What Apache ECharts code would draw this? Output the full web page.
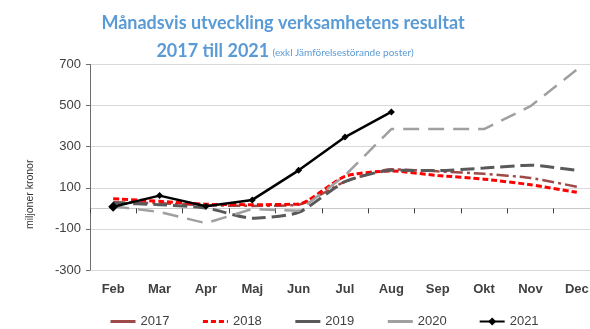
<!DOCTYPE html>
<html>
<head>
<meta charset="utf-8">
<script src="https://cdn.jsdelivr.net/npm/echarts@6/dist/echarts.min.js"></script>
<style>
  html, body { margin: 0; padding: 0; background: #fff; }
  #chart { width: 590px; height: 329px; }
</style>
</head>
<body>
<div id="chart"></div>
<script>
// Månader (februari–december)
const months = ['Feb', 'Mar', 'Apr', 'Maj', 'Jun', 'Jul', 'Aug', 'Sep', 'Okt', 'Nov', 'Dec'];

// Ackumulerat resultat per år, miljoner kronor
const y2017 = [30, 25, 15, 12, 18, 130, 190, 180, 168, 148, 105];
const y2018 = [47, 34, 20, 18, 21, 156, 182, 160, 142, 115, 78];
const y2019 = [26, 18, 2, -48, -20, 130, 185, 184, 196, 210, 185];
const y2020 = [10, -18, -72, -3, -12, 160, 386, 386, 386, 497, 675];
const y2021 = [8, 62, 10, 41, 185, 347, 469];

const yTicks = { min: -300, max: 700, step: 200 };

const chart = echarts.init(document.getElementById('chart'), null, { renderer: 'canvas' });

const titleBlue = '#5B9BD5';
const textDark = '#404040';

// legend entries: plain line swatch, symbol hidden (except 2021)
const plainSwatch = { opacity: 0 };

chart.setOption({
  animation: false,
  backgroundColor: '#ffffff',
  graphic: [
    {
      type: 'text',
      x: 283,
      y: 23,
      style: {
        text: 'Månadsvis utveckling verksamhetens resultat',
        fontFamily: 'Lato',
        fontWeight: 'bold',
        fontSize: 18,
        fill: titleBlue,
        align: 'center',
        verticalAlign: 'middle'
      }
    },
    {
      type: 'text',
      x: 285,
      y: 51,
      style: {
        text: '{big|2017 till 2021} {small|(exkl Jämförelsestörande poster)}',
        align: 'center',
        verticalAlign: 'middle',
        rich: {
          big: { fontFamily: 'Lato', fontWeight: 'bold', fontSize: 18, fill: titleBlue },
          small: { fontFamily: 'Lato', fontSize: 10, fill: titleBlue, padding: [3, 0, 0, 0] }
        }
      }
    },
    {
      type: 'text',
      x: 25,
      y: 229,
      rotation: Math.PI / 2,
      style: {
        text: 'miljoner kronor',
        fontFamily: 'Liberation Sans',
        fontSize: 10.5,
        fill: '#333'
      }
    }
  ],
  legend: {
    bottom: -4,
    left: 104,
    itemWidth: 25,
    itemHeight: 10,
    itemGap: 32,
    textStyle: { fontFamily: 'Liberation Sans', fontSize: 13, color: textDark },
    data: [
      { name: '2017', itemStyle: plainSwatch, lineStyle: { type: 'solid', width: 3 } },
      { name: '2018', itemStyle: plainSwatch, lineStyle: { type: [5, 3], width: 3 } },
      { name: '2019', itemStyle: plainSwatch, lineStyle: { type: 'solid', width: 3 } },
      { name: '2020', itemStyle: plainSwatch, lineStyle: { type: 'solid', width: 3 } },
      { name: '2021' }
    ]
  },
  grid: { left: 90, top: 64.5, bottom: 59, width: 510, outerBoundsMode: 'none', containLabel: false },
  xAxis: [
    {
      // month labels along the bottom edge
      type: 'category',
      data: months,
      position: 'bottom',
      boundaryGap: true,
      axisLine: { show: false, onZero: false },
      axisTick: { show: false },
      axisLabel: {
        margin: 13,
        fontFamily: 'Liberation Sans',
        fontWeight: 'bold',
        fontSize: 13,
        color: textDark
      },
      splitLine: { show: false }
    },
    {
      // zero line with category ticks
      type: 'category',
      data: months,
      position: 'top',
      boundaryGap: true,
      axisLine: { show: true, onZero: true, lineStyle: { color: '#c8c8c8', width: 1 } },
      axisTick: { show: true, inside: true, length: 5, lineStyle: { color: '#404040' } },
      axisLabel: { show: false },
      splitLine: { show: false }
    }
  ],
  yAxis: {
    type: 'value',
    min: yTicks.min,
    max: yTicks.max,
    interval: yTicks.step,
    axisLine: { show: true, lineStyle: { color: '#6e6e6e', width: 1 } },
    axisTick: { show: true, length: 4, lineStyle: { color: '#6e6e6e' } },
    axisLabel: { margin: 9, fontFamily: 'Liberation Sans', fontSize: 13, color: textDark },
    splitLine: { show: true, lineStyle: { color: '#d9d9d9', width: 1 } }
  },
  series: [
    {
      name: '2017', type: 'line', data: y2017, smooth: 0.2, showSymbol: false, symbol: 'none',
      itemStyle: { color: '#9E4A48' },
      lineStyle: { color: '#9E4A48', width: 2.5, type: [12, 4, 3, 4] }
    },
    {
      name: '2018', type: 'line', data: y2018, smooth: 0.2, showSymbol: false, symbol: 'none',
      itemStyle: { color: '#FF0000' },
      lineStyle: { color: '#FF0000', width: 3, type: [6, 3] }
    },
    {
      name: '2019', type: 'line', data: y2019, smooth: 0.2, showSymbol: false, symbol: 'none',
      itemStyle: { color: '#595959' },
      lineStyle: { color: '#595959', width: 3, type: [14, 6] }
    },
    {
      name: '2020', type: 'line', data: y2020, showSymbol: false, symbol: 'none',
      itemStyle: { color: '#A0A0A0' },
      lineStyle: { color: '#A0A0A0', width: 2.5, type: [16, 9] }
    },
    {
      name: '2021', type: 'line', data: y2021,
      symbol: 'diamond',
      symbolSize: (v, p) => (p.dataIndex === 0 ? 10 : 7),
      itemStyle: { color: '#000000' },
      lineStyle: { color: '#000000', width: 2.5 }
    }
  ]
});
</script>
</body>
</html>
